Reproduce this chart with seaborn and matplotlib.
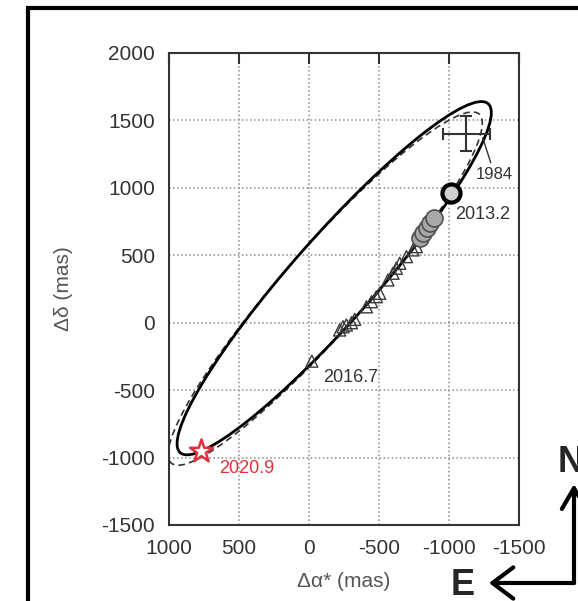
import matplotlib
matplotlib.use('Agg')
import matplotlib.pyplot as plt
from matplotlib.patches import Ellipse, Rectangle, FancyArrowPatch
import seaborn as sns
import pandas as pd

# Orbit (sky-projected ellipse), in mas
orbit_center = (-180, 330)
orbit_major = 3396
orbit_minor = 607
orbit_angle = 130.3
alt_orbit_center = (-116, 253)

# Observations
tri_x = [-20, -219, -243, -267, -303, -326, -410, -446, -481, -505, -564, -600, -624, -648, -696, -743, -767]
tri_y = [-285, -54, -30, -17, 0, 25, 118, 156, 193, 218, 317, 367, 404, 441, 490, 540, 564]

gray_x = [-790, -815, -840, -865, -890]
gray_y = [627, 665, 700, 738, 775]

ring_x = [-1017]
ring_y = [961]

star_x = [769]
star_y = [-950]

eb_x = -1124
eb_y = 1400
eb_xerr = 167
eb_yerr = 130

labels = ['1984', '2013.2', '2016.7', '2020.9']
label_x = [-1326, -1041, -100, 645]
label_y = [1097, 800, -407, -1079]

sns.set_style('white')
plt.rcParams['font.family'] = ['Liberation Sans', 'DejaVu Sans']
plt.rcParams['axes.unicode_minus'] = False

fig = plt.figure(figsize=(5.78, 6.01), dpi=100)
ax = fig.add_axes([169 / 578, 1 - 525 / 601, 350 / 578, 472 / 601])

ax.set_xlim(1000, -1500)
ax.set_ylim(-1500, 2000)
ax.set_xticks([1000, 500, 0, -500, -1000, -1500])
ax.set_yticks([-1500, -1000, -500, 0, 500, 1000, 1500, 2000])
ax.grid(True, linestyle=':', color='#8a8a8a', lw=1.1)
ax.set_axisbelow(True)

# orbits
ax.add_patch(Ellipse(alt_orbit_center, orbit_major, orbit_minor, angle=orbit_angle,
                     fill=False, ec='#333333', lw=1.2, ls=(0, (4, 2.5))))
ax.add_patch(Ellipse(orbit_center, orbit_major, orbit_minor, angle=orbit_angle,
                     fill=False, ec='black', lw=2.0))

tri = pd.DataFrame({'x': tri_x, 'y': tri_y})
sns.scatterplot(data=tri, x='x', y='y', ax=ax, marker='^', s=75,
                facecolors='none', edgecolor='#3a3a3a', linewidth=1.0, zorder=3)

gray = pd.DataFrame({'x': gray_x, 'y': gray_y})
sns.scatterplot(data=gray, x='x', y='y', ax=ax, marker='o', s=150,
                facecolor='#a8a8a8', edgecolor='#505050', linewidth=1.2, zorder=3)

ring = pd.DataFrame({'x': ring_x, 'y': ring_y})
sns.scatterplot(data=ring, x='x', y='y', ax=ax, marker='o', s=170,
                facecolor='#d0d0d0', edgecolor='black', linewidth=3, zorder=4)

star = pd.DataFrame({'x': star_x, 'y': star_y})
sns.scatterplot(data=star, x='x', y='y', ax=ax, marker='*', s=300,
                facecolor='white', edgecolor='#e0303c', linewidth=1.8, zorder=5)

ax.errorbar(eb_x, eb_y, xerr=eb_xerr, yerr=eb_yerr, fmt='none', ecolor='#333333',
            elinewidth=1.5, capsize=4, capthick=1.5, zorder=4)

ax.annotate(labels[0], xy=(-1241, 1371), xytext=(label_x[0], label_y[0]),
            ha='center', va='center', fontsize=12, color='#333333',
            arrowprops=dict(arrowstyle='-', color='#333333', lw=1, shrinkA=1, shrinkB=0))
for txt, lx, ly in zip(labels[1:], label_x[1:], label_y[1:]):
    ax.text(lx, ly, txt, ha='left', va='center', fontsize=13,
            color='#e0303c' if txt == '2020.9' else '#333333')

ax.set_xlabel('Δα* (mas)', fontsize=15, color='#555555')
ax.set_ylabel('Δδ (mas)', fontsize=15, color='#555555')
ax.xaxis.set_label_coords(0.5, -0.10)
ax.yaxis.set_label_coords(-0.275, 0.5)

ax.tick_params(direction='in', length=8, width=1.5, pad=10, labelsize=15,
               labelcolor='#333333', color='#333333', top=True)
for sp in ax.spines.values():
    sp.set_color('#333333')
    sp.set_linewidth(1.5)

# outer frame and compass
fig.add_artist(Rectangle((28 / 578, -0.1), 1.2, 0.1 + 1 - 8 / 601, transform=fig.transFigure,
                         fill=False, ec='black', lw=3, clip_on=False))
corner = (574 / 578, 1 - 583 / 601)
fig.add_artist(FancyArrowPatch(corner, (574 / 578, 1 - 484 / 601), transform=fig.transFigure,
                               arrowstyle='->,head_length=0.6,head_width=0.35', mutation_scale=25,
                               lw=3, color='black', shrinkA=0, shrinkB=0))
fig.add_artist(FancyArrowPatch(corner, (489 / 578, 1 - 583 / 601), transform=fig.transFigure,
                               arrowstyle='->,head_length=0.6,head_width=0.45', mutation_scale=25,
                               lw=3, color='black', shrinkA=0, shrinkB=0))
fig.text(451 / 578, 1 - 595 / 601, 'E', fontsize=26, weight='bold', ha='left', va='baseline')
fig.text(558 / 578, 1 - 472 / 601, 'N', fontsize=26, weight='bold', ha='left', va='baseline')

fig.savefig('out.png', dpi=100)
